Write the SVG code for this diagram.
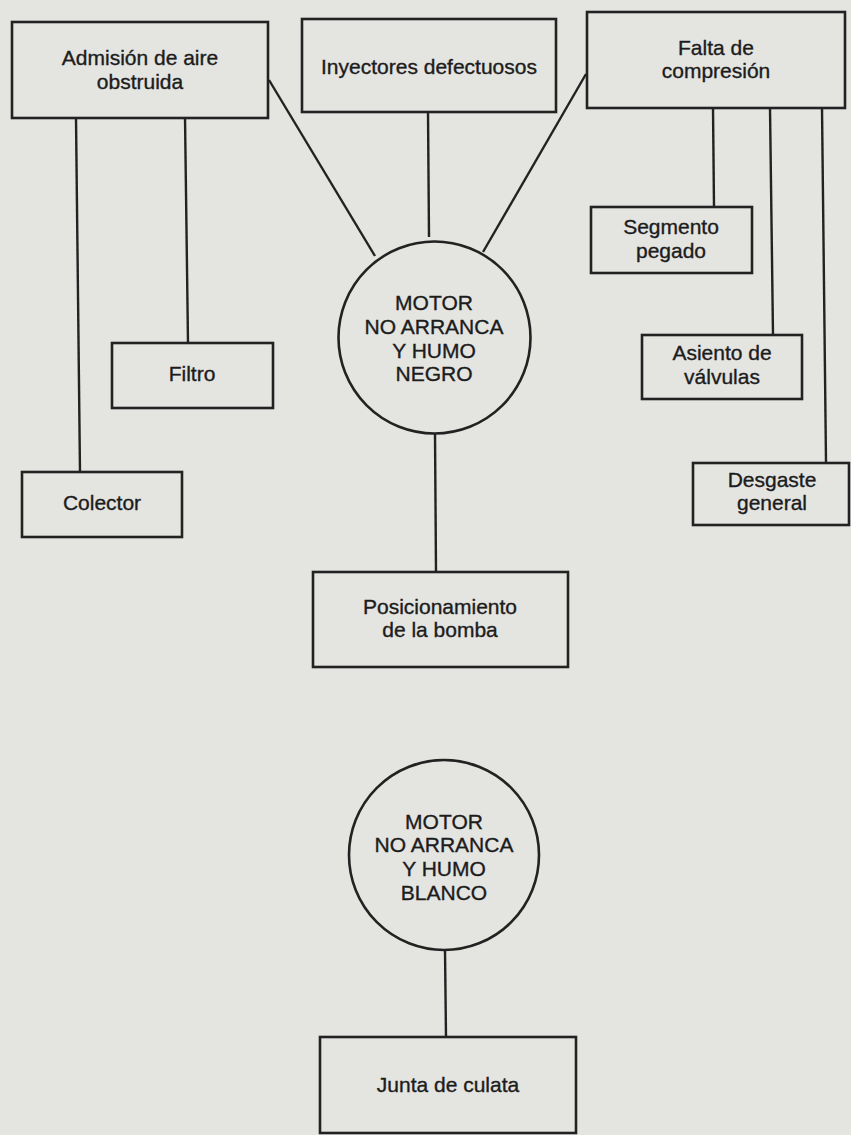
<svg xmlns="http://www.w3.org/2000/svg" width="851" height="1135" viewBox="0 0 851 1135">
<style>
.box{fill:#e4e4e1;stroke:#222;stroke-width:2.6}
.node circle{fill:#e4e4e1;stroke:#222;stroke-width:2.6}
.conn line{stroke:#222;stroke-width:2.4;fill:none}
text{font-family:"Liberation Sans",Arial,sans-serif;font-size:21px;fill:#1c1c1c;stroke:#1c1c1c;stroke-width:0.35;text-anchor:middle}
</style>
<rect x="0" y="0" width="851" height="1135" fill="#e4e4e1"/>
<g id="connectors" class="conn">
<line x1="76" y1="118" x2="80" y2="472"/>
<line x1="185" y1="117" x2="188" y2="343"/>
<line x1="428" y1="112" x2="429" y2="237"/>
<line x1="269" y1="80" x2="375" y2="256"/>
<line x1="586" y1="74" x2="483" y2="252"/>
<line x1="713" y1="108" x2="714" y2="207"/>
<line x1="770" y1="108" x2="773" y2="335"/>
<line x1="822" y1="108" x2="826" y2="462"/>
<line x1="435" y1="433" x2="436" y2="572"/>
<line x1="445" y1="950" x2="446" y2="1037"/>
</g>
<g id="admision" class="node">
<rect class="box" x="12" y="22" width="256" height="96"/>
<text x="140" y="65">Admisión de aire</text>
<text x="140" y="89">obstruida</text>
</g>
<g id="inyectores" class="node">
<rect class="box" x="302" y="19" width="254" height="93"/>
<text x="429" y="74">Inyectores defectuosos</text>
</g>
<g id="falta" class="node">
<rect class="box" x="587" y="12" width="258" height="96"/>
<text x="716" y="55">Falta de</text>
<text x="716" y="78">compresión</text>
</g>
<g id="segmento" class="node">
<rect class="box" x="591" y="207" width="161" height="66"/>
<text x="671" y="234">Segmento</text>
<text x="671" y="258">pegado</text>
</g>
<g id="asiento" class="node">
<rect class="box" x="642" y="335" width="160" height="64"/>
<text x="722" y="360">Asiento de</text>
<text x="722" y="384">válvulas</text>
</g>
<g id="desgaste" class="node">
<rect class="box" x="693" y="463" width="156" height="62"/>
<text x="772" y="487">Desgaste</text>
<text x="772" y="510">general</text>
</g>
<g id="filtro" class="node">
<rect class="box" x="112" y="343" width="161" height="65"/>
<text x="192" y="381">Filtro</text>
</g>
<g id="colector" class="node">
<rect class="box" x="22" y="472" width="160" height="65"/>
<text x="102" y="510">Colector</text>
</g>
<g id="motor-negro" class="node">
<circle cx="434.5" cy="337.5" r="96"/>
<text x="434" y="310">MOTOR</text>
<text x="434" y="334">NO ARRANCA</text>
<text x="434" y="358">Y HUMO</text>
<text x="434" y="381">NEGRO</text>
</g>
<g id="posicionamiento" class="node">
<rect class="box" x="313" y="572" width="255" height="95"/>
<text x="440" y="614">Posicionamiento</text>
<text x="440" y="637">de la bomba</text>
</g>
<g id="motor-blanco" class="node">
<circle cx="444" cy="855" r="95"/>
<text x="444" y="829">MOTOR</text>
<text x="444" y="852">NO ARRANCA</text>
<text x="444" y="876">Y HUMO</text>
<text x="444" y="900">BLANCO</text>
</g>
<g id="junta" class="node">
<rect class="box" x="320" y="1037" width="256" height="96"/>
<text x="448" y="1092">Junta de culata</text>
</g>
</svg>
